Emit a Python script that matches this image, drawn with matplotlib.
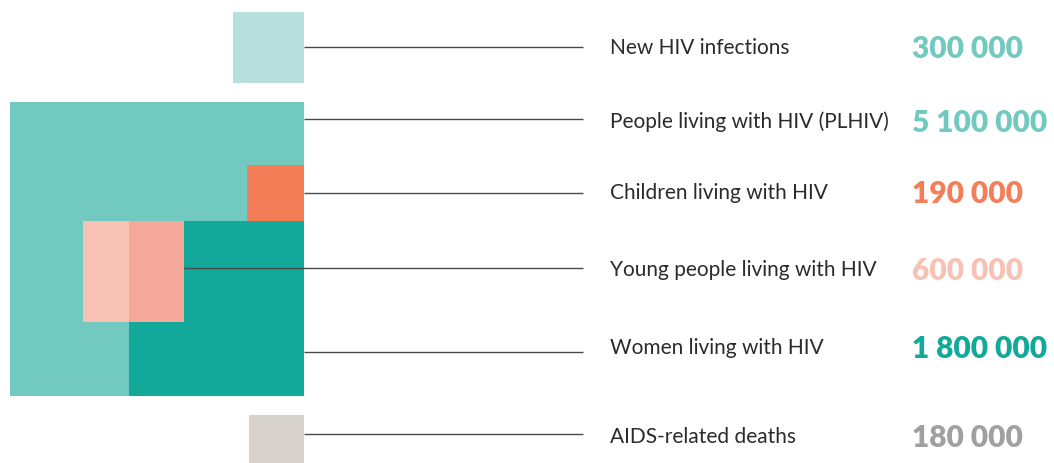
import numpy as np
import matplotlib
matplotlib.use("Agg")
import matplotlib.pyplot as plt
from matplotlib.patches import Rectangle

# ---- data ----
labels = ["New HIV infections", "People living with HIV (PLHIV)", "Children living with HIV",
          "Young people living with HIV", "Women living with HIV", "AIDS-related deaths"]
values = [300000, 5100000, 190000, 600000, 1800000, 180000]
value_text = ["300 000", "5 100 000", "190 000", "600 000", "1 800 000", "180 000"]

# ---- styles ----
fill_colors = ["#B7E0DC", "#72C9BF", "#F47E58", "#F8C1B5", "#12A89A", "#D6D1CB"]
overlap_color = "#F5A799"
value_colors = ["#72C9BF", "#72C9BF", "#F47E58", "#F8C1B5", "#12A89A", "#A0A0A2"]
label_y = [48.5, 121.5, 193.5, 270.5, 348.5, 437.5]
line_y = [48, 120, 194, 269, 353, 435]

W, H = 1054, 464
fig = plt.figure(figsize=(W / 100, H / 100), dpi=100)
ax = fig.add_axes([0, 0, 1, 1])
ax.set_xlim(0, W)
ax.set_ylim(H, 0)
ax.axis("off")

# side length proportional to sqrt(value) (area encodes value)
k = 294 / np.sqrt(values[1])
side = [k * np.sqrt(v) for v in values]
R = 304  # common right edge

# positions (left, top)
sq = {}
sq[1] = (R - side[1], 103)                         # PLHIV
sq[0] = (R - side[0], 13)                          # new infections
plh_bottom = sq[1][1] + side[1]
sq[4] = (R - side[4], plh_bottom - side[4])        # women
sq[2] = (R - side[2], sq[4][1] - side[2])          # children
sq[3] = (83, sq[4][1])                             # young
sq[5] = (R - side[5], 416)                         # deaths

for i in [0, 1, 2, 4, 5, 3]:
    x0, y0 = sq[i]
    ax.add_patch(Rectangle((x0, y0), side[i], side[i], facecolor=fill_colors[i],
                           edgecolor="none", zorder=2))

# overlap of young with women
yx0, yy0 = sq[3]
wx0, wy0 = sq[4]
ox0 = max(yx0, wx0)
ox1 = min(yx0 + side[3], wx0 + side[4])
oy0 = max(yy0, wy0)
oy1 = min(yy0 + side[3], wy0 + side[4])
ax.add_patch(Rectangle((ox0, oy0), ox1 - ox0, oy1 - oy0, facecolor=overlap_color,
                       edgecolor="none", zorder=3))

# leader lines
line_start = [R, R, R, sq[3][0] + side[3], R, R]
for i in range(6):
    ax.plot([line_start[i], 583], [line_y[i], line_y[i]], color="#4a4a4a", lw=1.0,
            zorder=4, solid_capstyle="butt")

for i in range(6):
    ax.text(610, label_y[i], labels[i], fontsize=15, family="Lato", color="#2b2b2b",
            va="center", ha="left")
    ax.text(912, label_y[i] + 1, value_text[i], fontsize=21.5, family="Lato",
            fontweight="heavy", color=value_colors[i], va="center", ha="left")

fig.savefig("out.png", dpi=100)
